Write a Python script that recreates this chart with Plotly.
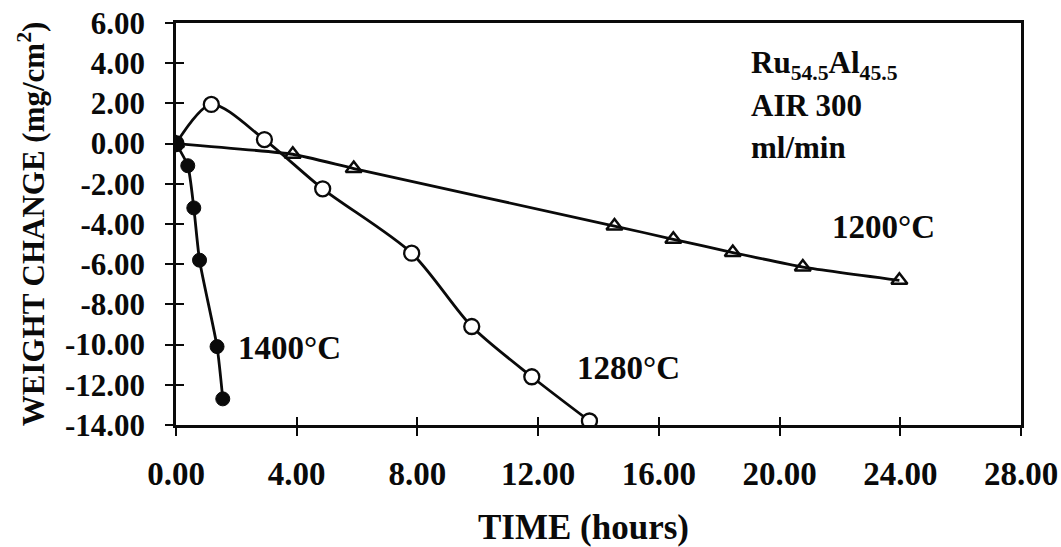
import plotly.graph_objects as go

# Oxidation weight change of Ru54.5Al45.5 in air (300 ml/min)
t_1400 = [0.0, 0.39, 0.59, 0.78, 1.36, 1.55]
w_1400 = [0.0, -1.1, -3.2, -5.8, -10.1, -12.7]

t_1280 = [0.0, 1.17, 2.93, 4.86, 7.81, 9.80, 11.79, 13.70]
w_1280 = [0.0, 1.95, 0.2, -2.25, -5.45, -9.1, -11.6, -13.8]

t_1200 = [0.0, 3.87, 5.89, 14.53, 16.48, 18.45, 20.77, 23.97]
w_1200 = [0.0, -0.53, -1.24, -4.1, -4.76, -5.42, -6.14, -6.8]

x_ticks = [0, 4, 8, 12, 16, 20, 24, 28]
x_labels = ["0.00", "4.00", "8.00", "12.00", "16.00", "20.00", "24.00", "28.00"]
y_ticks = [6, 4, 2, 0, -2, -4, -6, -8, -10, -12, -14]
y_labels = ["6.00", "4.00", "2.00", "0.00", "-2.00", "-4.00", "-6.00",
            "-8.00", "-10.00", "-12.00", "-14.00"]

FONT = "Liberation Serif"
INK = "#0a0a0a"

fig = go.Figure()

fig.add_trace(go.Scatter(
    x=t_1200, y=w_1200, mode="lines+markers",
    line=dict(color=INK, width=2.8, shape="spline", smoothing=0.4),
    marker=dict(symbol="triangle-up-open", size=14, color=INK,
                line=dict(width=2.5, color=INK)),
    name="1200°C"))

fig.add_trace(go.Scatter(
    x=t_1280, y=w_1280, mode="lines+markers",
    line=dict(color=INK, width=2.8, shape="spline", smoothing=0.8),
    marker=dict(symbol="circle", size=15, color="white",
                line=dict(width=2.3, color=INK)),
    name="1280°C"))

fig.add_trace(go.Scatter(
    x=t_1400, y=w_1400, mode="lines+markers",
    line=dict(color=INK, width=2.8, shape="spline", smoothing=0.6),
    marker=dict(symbol="circle", size=14, color=INK,
                line=dict(width=1, color=INK)),
    name="1400°C"))

# invisible trace so the overlay axes (inner half of the crossing ticks) render
fig.add_trace(go.Scatter(x=[0], y=[0], xaxis="x2", yaxis="y2",
                         mode="markers", marker=dict(opacity=0),
                         hoverinfo="skip", showlegend=False))

fig.update_layout(
    width=1061, height=547,
    margin=dict(l=176, r=40, t=23, b=122, autoexpand=False),
    paper_bgcolor="white", plot_bgcolor="white",
    showlegend=False,
    xaxis=dict(
        range=[0, 28], tickvals=x_ticks, ticktext=x_labels,
        ticks="outside", ticklen=8, tickwidth=2, tickcolor=INK,
        showline=True, linewidth=2.5, linecolor=INK, mirror=True,
        showgrid=False, zeroline=False, automargin=False,
        tickfont=dict(family=FONT, size=33, color=INK, weight="bold"),
        ticklabelstandoff=10,
    ),
    yaxis=dict(
        range=[-14, 6], tickvals=y_ticks, ticktext=y_labels,
        ticks="outside", ticklen=8, tickwidth=2, tickcolor=INK,
        showline=True, linewidth=2.5, linecolor=INK, mirror=True,
        showgrid=False, zeroline=False, automargin=False,
        tickfont=dict(family=FONT, size=31, color=INK, weight="bold"),
        ticklabelstandoff=14,
        title=dict(text="WEIGHT CHANGE (mg/cm<sup>2</sup>)", standoff=12,
                   font=dict(family=FONT, size=31, color=INK, weight="bold")),
    ),
    xaxis2=dict(
        range=[0, 28], overlaying="x", tickvals=x_ticks,
        ticks="inside", ticklen=8, tickwidth=2, tickcolor=INK,
        showticklabels=False, showgrid=False, zeroline=False,
        showline=False, side="bottom", anchor="y2", automargin=False,
    ),
    yaxis2=dict(
        range=[-14, 6], overlaying="y", tickvals=y_ticks,
        ticks="inside", ticklen=8, tickwidth=2, tickcolor=INK,
        showticklabels=False, showgrid=False, zeroline=False,
        showline=False, side="left", anchor="x2", automargin=False,
    ),
)

# x-axis title, set slightly left of the plot centre
fig.add_annotation(x=0.482, y=-0.255, xref="paper", yref="paper",
                   text="TIME (hours)", showarrow=False,
                   xanchor="center", yanchor="middle",
                   font=dict(family=FONT, size=35, color=INK, weight="bold"))

label_font = dict(family=FONT, size=33, color=INK, weight="bold")
note_font = dict(family=FONT, size=31, color=INK, weight="bold")
notes = [
    (3.76, -10.18, "1400°C", "center", label_font),
    (15.0, -11.18, "1280°C", "center", label_font),
    (23.44, -4.17, "1200°C", "center", label_font),
    (19.0, 3.9, "Ru<sub>54.5</sub>Al<sub>45.5</sub>", "left", note_font),
    (19.0, 1.9, "AIR 300", "left", note_font),
    (19.0, -0.19, "ml/min", "left", note_font),
]
for x, y, txt, anchor, f in notes:
    fig.add_annotation(x=x, y=y, xref="x", yref="y", text=txt,
                       showarrow=False, xanchor=anchor, yanchor="middle",
                       font=f)

fig.write_html("out.html")
